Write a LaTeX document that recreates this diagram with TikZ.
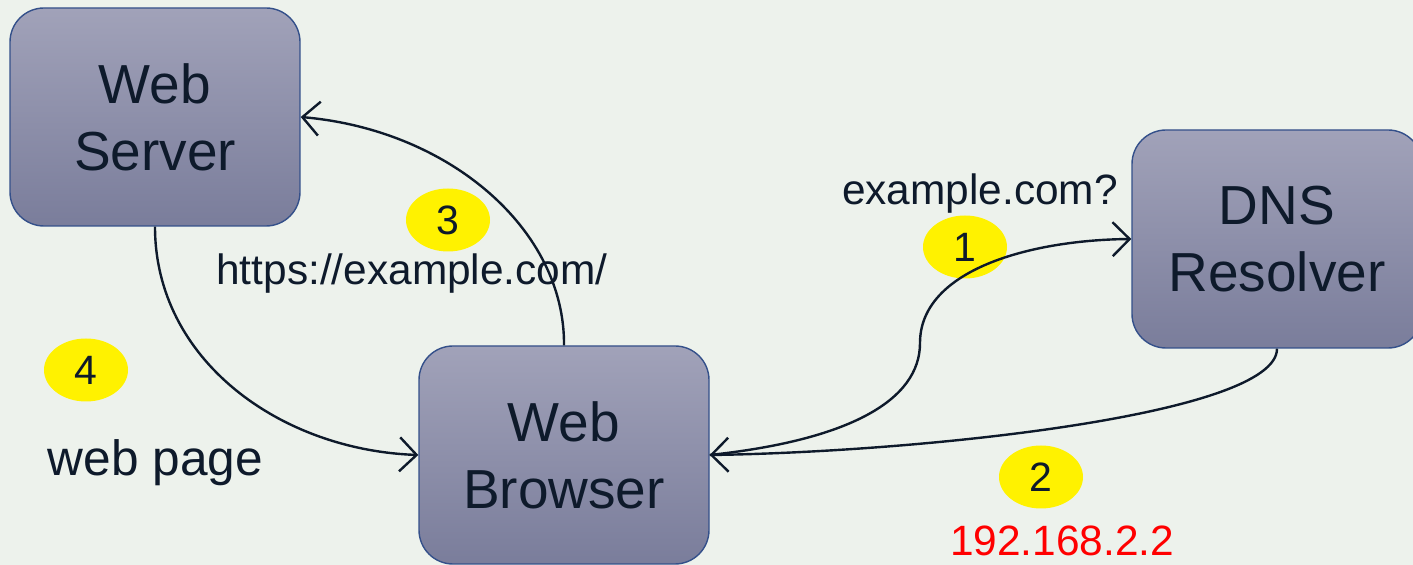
\documentclass[tikz,border=0pt]{standalone}
\usepackage{fontspec}
\setmainfont{Liberation Sans}
\usetikzlibrary{arrows.meta,shapes.geometric}
\definecolor{bg}{HTML}{EDF2EC}
\definecolor{ink}{HTML}{0E1A2B}
\definecolor{boxtop}{HTML}{A1A2B9}
\definecolor{boxbot}{HTML}{7A7D9B}
\definecolor{boxline}{HTML}{34508A}
\definecolor{ipred}{HTML}{FF0000}
\tikzset{
  srvbox/.style={rectangle, rounded corners=17pt, draw=boxline, line width=0.7pt,
    top color=boxtop, bottom color=boxbot, minimum width=145pt, minimum height=109pt,
    inner sep=0pt, align=center, text=ink,
    font=\fontsize{27.5}{33.5}\selectfont},
  badge/.style={ellipse, fill=yellow, minimum width=42pt, minimum height=31.5pt,
    inner sep=0pt, text=ink, font=\fontsize{20.5}{24}\selectfont},
  lbl/.style={text=ink, inner sep=0pt, anchor=base, font=\fontsize{21.2}{25}\selectfont},
  conn/.style={draw=ink, line width=1.2pt,
    -{Straight Barb[length=8.5pt,width=17pt,line width=1.2pt]}}
}
\begin{document}
\begin{tikzpicture}[x=0.5pt,y=-0.5pt]
\fill[bg] (0,0) rectangle (1413,565);
\useasboundingbox (0,0) rectangle (1413,565);
\clip (0,0) rectangle (1413,565);
\node[srvbox] (server) at (155,117) {Web\\Server};
\node[srvbox] (browser) at (564,455) {Web\\Browser};
\node[srvbox] (dns) at (1277,239) {DNS\\Resolver};

\node[badge] (b1) at (965,247) {1};
\node[badge] (b2) at (1041,477) {2};
\node[badge] (b3) at (448,220) {3};
\node[badge] (b4) at (86,370) {4};

\node[lbl] (lq) at (980,205) {example.com?};
\node[lbl] (lu) at (412,285) {https://example.com/};
\node[lbl, font=\fontsize{24.8}{28}\selectfont] (lw) at (155.5,476) {web page};
\node[lbl, text=ipred] (lip) at (1062,556) {192.168.2.2};

\coordinate (q) at (920,343);
\draw[conn] (browser.north) .. controls (565,230) and (450,130) .. (server.east);
\draw[conn] (server.south) .. controls (155,360) and (280,450) .. (browser.west);
\draw[conn] (browser.east) .. controls (850,440) and (920,400) .. (q)
  .. controls (920,270) and (1030,240) .. (dns.west);
\draw[conn] (dns.south) .. controls (1277,415) and (920,452) .. (browser.east);
\end{tikzpicture}
\end{document}
